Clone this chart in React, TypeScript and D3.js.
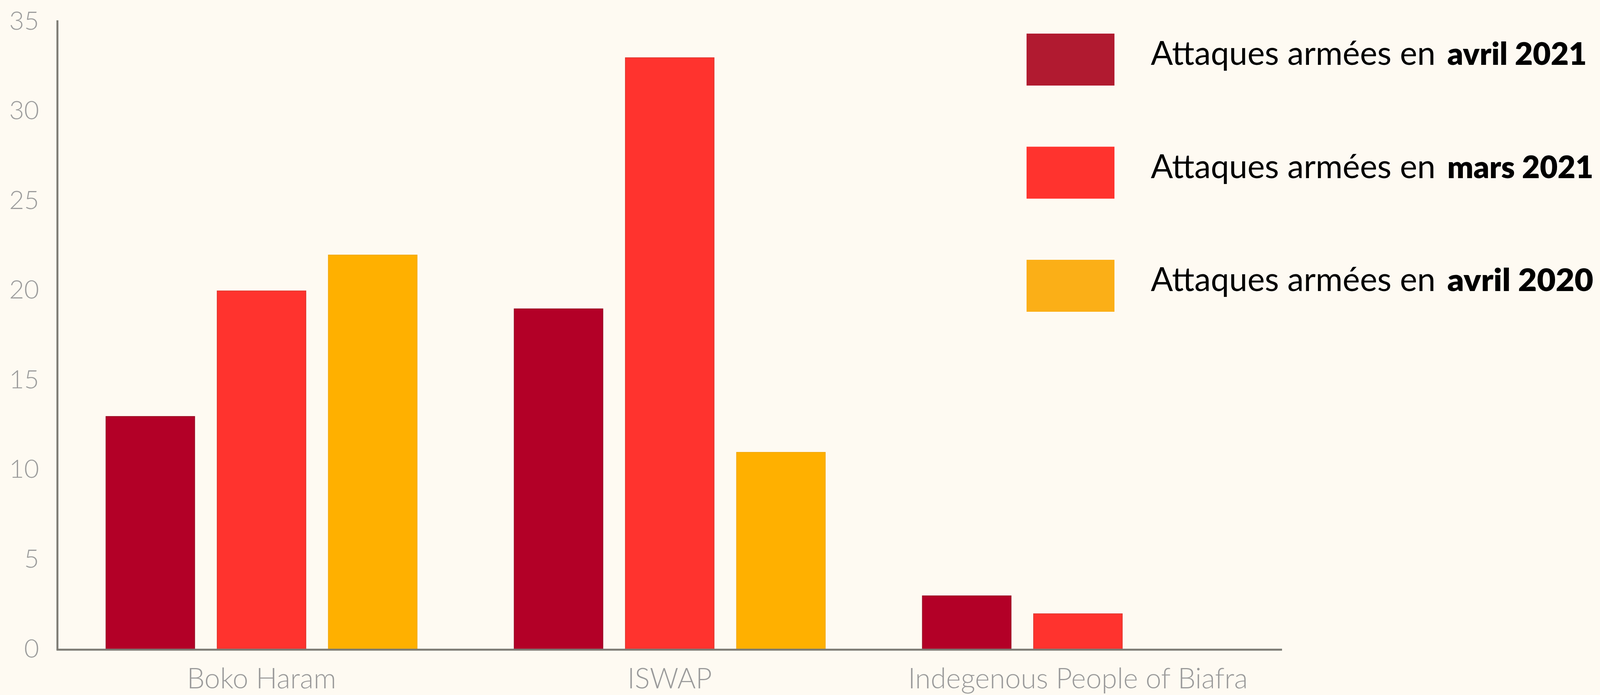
import React from "react";
import * as d3 from "d3";

const W = 4100;
const H = 1779;

const categories = ["Boko Haram", "ISWAP", "Indegenous People of Biafra"];
const seriesKeys = ["avril2021", "mars2021", "avril2020"];
const avril2021 = [13, 19, 3];
const mars2021 = [20, 33, 2];
const avril2020 = [22, 11, 0];
const yTicks = [0, 5, 10, 15, 20, 25, 30, 35];

const legendRegular = "Attaques armées en";
const legendBold = ["avril 2021", "mars 2021", "avril 2020"];

const barColors = ["#B30027", "#FF332E", "#FFB000"];
const barStrokes = ["#9A0A26", "#E0382F", "#F2A90A"];
const legendColors = ["#B11A30", "#FF332E", "#FBAF17"];

const seriesValues = [avril2021, mars2021, avril2020];

export default function App() {
  const x0 = d3.scaleBand<string>().domain(categories).range([147, 3282]).paddingInner(0).paddingOuter(0);
  const x1 = d3
    .scaleBand<string>()
    .domain(seriesKeys)
    .range([0, x0.bandwidth()])
    .paddingInner(0.203)
    .paddingOuter(0.437);
  const y = d3.scaleLinear().domain([0, 35]).range([1663, 56]);

  const legendY = d3.scalePoint<string>().domain(seriesKeys).range([86, 665]);

  return (
    <svg
      width={W}
      height={H}
      viewBox={`0 0 ${W} ${H}`}
      style={{ position: "absolute", left: 0, top: 0, display: "block" }}
    >
      <rect x={0} y={0} width={W} height={H} fill="#FEFAF2" />

      {/* bars */}
      {categories.map((c, ci) => (
        <g key={c} transform={`translate(${x0(c)},0)`}>
          {seriesKeys.map((k, si) => {
            const v = seriesValues[si][ci];
            if (v <= 0) return null;
            const top = y(v);
            return (
              <rect
                key={k}
                x={x1(k)}
                y={top}
                width={x1.bandwidth()}
                height={y(0) - top}
                fill={barColors[si]}
                stroke={barStrokes[si]}
                strokeWidth={2}
              />
            );
          })}
        </g>
      ))}

      {/* axes */}
      <line x1={147} x2={147} y1={52} y2={1665} stroke="#7C7B74" strokeWidth={5} />
      <line x1={145} x2={x0.range()[1]} y1={y(0)} y2={y(0)} stroke="#7C7B74" strokeWidth={5} />

      {/* y tick labels */}
      {yTicks.map((t) => (
        <text
          key={t}
          x={100}
          y={y(t) - 6}
          textAnchor="end"
          dominantBaseline="central"
          fontFamily="Lato, sans-serif"
          fontWeight={300}
          fontSize={66}
          fill="#9C9C9C"
        >
          {t}
        </text>
      ))}

      {/* x labels */}
      {categories.map((c) => (
        <text
          key={c}
          x={(x0(c) as number) + x0.bandwidth() / 2}
          y={1762}
          textAnchor="middle"
          fontFamily="Lato, sans-serif"
          fontWeight={300}
          fontSize={72}
          fill="#9A9A9A"
        >
          {c}
        </text>
      ))}

      {/* legend */}
      {seriesKeys.map((k, i) => {
        const ly = legendY(k) as number;
        return (
          <g key={k}>
            <rect x={2628} y={ly} width={225} height={133} fill={legendColors[i]} />
            <text
              x={2946}
              y={ly + 80}
              fontFamily="Lato, sans-serif"
              fontWeight={400}
              fontSize={86}
              fill="#000"
              textLength={729}
              lengthAdjust="spacingAndGlyphs"
            >
              {legendRegular}
            </text>
            <text
              x={3705}
              y={ly + 80}
              fontFamily="Lato, sans-serif"
              fontWeight={800}
              fontSize={80}
              fill="#000"
              textLength={i === 0 ? 357 : 374}
              lengthAdjust="spacingAndGlyphs"
            >
              {legendBold[i]}
            </text>
          </g>
        );
      })}
    </svg>
  );
}
